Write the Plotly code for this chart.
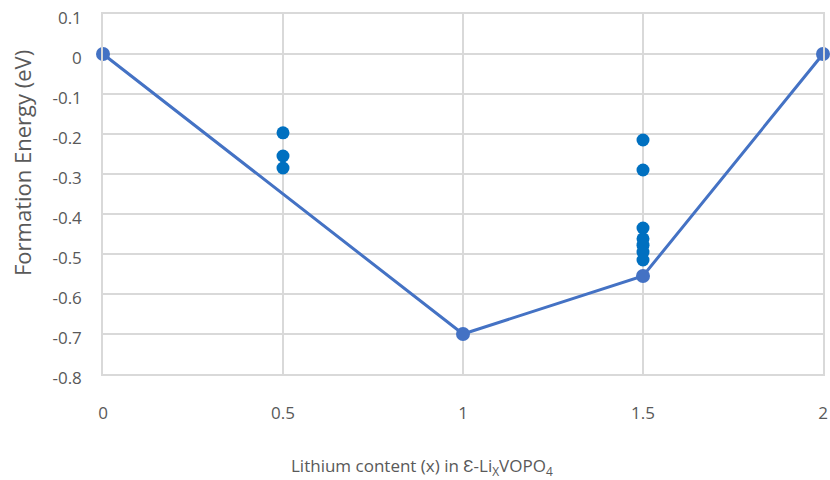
import plotly.graph_objects as go

hull_x = [0, 1, 1.5, 2]
hull_y = [0, -0.70, -0.555, 0]

cfg_x = [0.5, 0.5, 0.5, 1.5, 1.5, 1.5, 1.5, 1.5, 1.5, 1.5]
cfg_y = [-0.197, -0.255, -0.285, -0.215, -0.29, -0.435, -0.462, -0.478, -0.495, -0.515]

x_ticks = [0, 0.5, 1, 1.5, 2]
x_tick_labels = ["0", "0.5", "1", "1.5", "2"]
y_ticks = [0.1, 0, -0.1, -0.2, -0.3, -0.4, -0.5, -0.6, -0.7, -0.8]
y_tick_labels = ["0.1", "0", "-0.1", "-0.2", "-0.3", "-0.4", "-0.5", "-0.6", "-0.7", "-0.8"]

x_title = "Lithium content (x) in Ɛ-Li<sub>X</sub>VOPO<sub>4</sub>"
y_title = "Formation Energy (eV)"

font = "Open Sans, Liberation Sans, sans-serif"
txt = "#595959"
grid = "#D9D9D9"

fig = go.Figure()
fig.add_trace(go.Scatter(x=cfg_x, y=cfg_y, mode="markers",
                         marker=dict(color="#0070C0", size=13), showlegend=False,
                         cliponaxis=False))
fig.add_trace(go.Scatter(x=hull_x, y=hull_y, mode="lines+markers",
                         line=dict(color="#4472C4", width=3),
                         marker=dict(color="#4472C4", size=14), showlegend=False,
                         cliponaxis=False))

fig.add_annotation(text=x_title, xref="paper", yref="paper", x=0.443, y=-0.258,
                   xanchor="center", yanchor="middle", showarrow=False,
                   font=dict(size=17, color=txt, family=font))
fig.add_annotation(text=y_title, xref="paper", yref="paper", x=-0.1125, y=0.586,
                   xanchor="center", yanchor="middle", showarrow=False, textangle=-90,
                   font=dict(size=22, color=txt, family=font))

fig.update_layout(
    width=830, height=480,
    margin=dict(l=103, r=7, t=14, b=106, autoexpand=False),
    paper_bgcolor="white", plot_bgcolor="white",
    font=dict(family=font, color=txt, size=17),
    xaxis=dict(range=[0, 2], tickvals=x_ticks, ticktext=x_tick_labels,
               showgrid=True, gridcolor=grid, gridwidth=1.5, zeroline=False,
               showline=True, linecolor=grid, linewidth=1.5, mirror=True,
               ticks="", ticklabelstandoff=23, automargin=False,
               ticklabeloverflow="allow",
               tickfont=dict(size=17, color=txt, family=font)),
    yaxis=dict(range=[-0.8, 0.1], tickvals=y_ticks, ticktext=y_tick_labels,
               showgrid=True, gridcolor=grid, gridwidth=1.5, zeroline=False,
               showline=True, linecolor=grid, linewidth=1.5, mirror=True,
               ticks="", ticklabelstandoff=16, ticklabelshift=4, automargin=False,
               ticklabeloverflow="allow",
               tickfont=dict(size=17, color=txt, family=font)),
)

fig.write_html("out.html", config={"displayModeBar": False},
               post_script="document.body.style.margin='0';document.body.style.overflow='hidden';")
